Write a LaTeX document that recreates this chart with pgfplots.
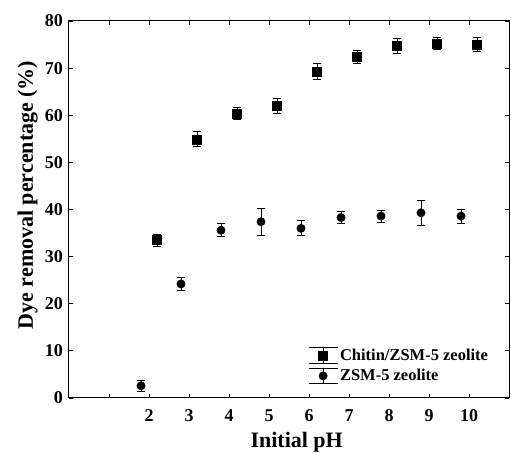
\documentclass[border=0pt]{standalone}
\usepackage{fontspec}
\setmainfont{Liberation Serif}
\usepackage{pgfplots}
\pgfplotsset{compat=1.18}

\begin{document}
\begin{tikzpicture}
\begin{axis}[
  scale only axis,
  width=440pt, height=377pt,
  xmin=0, xmax=11, ymin=0, ymax=80,
  xtick={1,2,...,10},
  xticklabels={,2,3,4,5,6,7,8,9,10},
  ytick={0,10,...,80},
  tick align=inside,
  major tick length=4pt,
  tick style={line width=0.8pt, black},
  axis line style={line width=1pt},
  /pgf/number format/assume math mode=true,
  tick label style={font=\bfseries\fontsize{18}{18}\selectfont, inner sep=0pt},
  yticklabel style={xshift=-6pt},
  xticklabel style={anchor=base, yshift=-24pt},
  xlabel={Initial pH},
  ylabel={Dye removal percentage (\%)},
  label style={font=\bfseries\fontsize{22}{22}\selectfont, inner sep=0pt},
  xlabel style={at={(axis description cs:0.5175,-0.1326)}, anchor=base},
  ylabel style={at={(axis description cs:-0.0705,0.5385)}, anchor=south},
  legend style={at={(axis cs:5.975,10.9)}, anchor=north west, draw=none, fill=none,
    font=\bfseries\fontsize{16.5}{18}\selectfont, inner sep=0pt, row sep=3.7pt,
    /tikz/every even column/.style={column sep=6pt}},
  legend cell align=left,
  error bars/y dir=both,
  error bars/y explicit,
  error bars/error bar style={line width=0.8pt, black},
  error bars/error mark options={rotate=90, mark size=4pt, line width=0.8pt, black},
]

% Chitin/ZSM-5 composite
\addplot[only marks, mark=square*, mark size=4.5pt, black,
  legend image code/.code={
    \draw[line width=0.8pt] (14.5pt,-7.8pt)--(14.5pt,7.8pt) (0pt,7.8pt)--(29pt,7.8pt) (0pt,-7.8pt)--(29pt,-7.8pt);
    \fill (10pt,-4.5pt) rectangle (19pt,4.5pt);
  }]
  coordinates {
    (2.2,33.5) +- (0,1.3)
    (3.2,54.9) +- (0,1.6)
    (4.2,60.4) +- (0,1.2)
    (5.2,62.0) +- (0,1.6)
    (6.2,69.2) +- (0,1.7)
    (7.2,72.4) +- (0,1.3)
    (8.2,74.7) +- (0,1.5)
    (9.2,75.2) +- (0,1.3)
    (10.2,75.0) +- (0,1.5)
  };
\addlegendentry{Chitin/ZSM-5 zeolite}

% ZSM-5 alone
\addplot[only marks, mark=*, mark size=4.2pt, black,
  legend image code/.code={
    \draw[line width=0.8pt] (14.5pt,-7.8pt)--(14.5pt,7.8pt) (0pt,7.8pt)--(29pt,7.8pt) (0pt,-7.8pt)--(29pt,-7.8pt);
    \fill (14.5pt,0pt) circle (4.2pt);
  }]
  coordinates {
    (1.8,2.6) +- (0,1.2)
    (2.8,24.2) +- (0,1.4)
    (3.8,35.6) +- (0,1.4)
    (4.8,37.4) +- (0,2.9)
    (5.8,36.0) +- (0,1.6)
    (6.8,38.3) +- (0,1.3)
    (7.8,38.6) +- (0,1.3)
    (8.8,39.3) +- (0,2.7)
    (9.8,38.6) +- (0,1.5)
  };
\addlegendentry{ZSM-5 zeolite}

\end{axis}
\path ([xshift=-69pt,yshift=-56pt]current axis.south west)
  rectangle ([xshift=2pt,yshift=21pt]current axis.north east);
\end{tikzpicture}
\end{document}
